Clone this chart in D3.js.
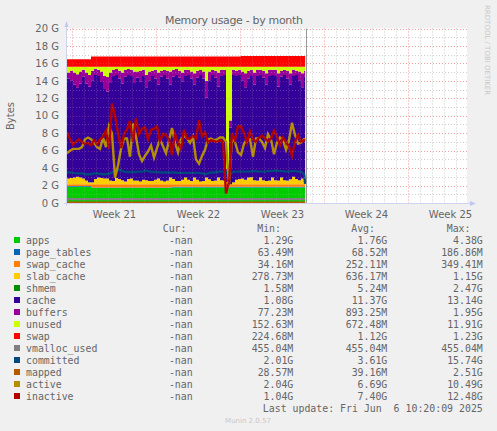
<!DOCTYPE html>
<html>
<head>
<meta charset="utf-8">
<script src="https://cdn.jsdelivr.net/npm/d3@7"></script>
<style>
html, body { margin: 0; padding: 0; background: #f0f0f0; }
svg { display: block; }
text { fill: #666; }
.mono { font-family: "DejaVu Sans Mono", monospace; font-size: 9.9px; white-space: pre; }
</style>
</head>
<body>
<div id="graph"></div>
<script>
// values in G, one every 6 hours from May 17 14:00
const apps = [1.87,1.87,1.87,1.87,1.87,1.87,1.87,1.87,1.72,1.72,
    1.72,1.72,1.72,1.72,1.72,1.72,1.72,1.72,1.72,1.72,
    1.72,1.72,1.72,1.72,1.72,1.72,1.72,1.72,1.72,1.72,
    1.72,1.72,1.72,1.72,1.72,1.79,1.79,1.79,1.79,1.79,
    1.79,1.79,1.79,1.79,1.79,1.79,1.79,1.79,1.79,1.79,
    1.79,1.79,1.79,1.79,1.79,1.79,1.79,1.79,1.79,1.79,
    1.79,1.79,1.79,1.79,1.79,1.79,1.79,1.79,1.79,1.79,
    1.79,1.79,1.79,1.79,1.79,1.79,1.79,1.79,1.79,1.79,1.79];
const page_tables = [.07,.07,.07,.07,.07,.07,.07,.07,.07,.07,
    .07,.07,.07,.07,.07,.07,.07,.07,.07,.07,
    .07,.07,.07,.07,.07,.07,.07,.07,.07,.07,
    .07,.07,.07,.07,.07,.07,.07,.07,.07,.07,
    .07,.07,.07,.07,.07,.07,.07,.07,.07,.07,
    .07,.07,.07,.07,.07,.07,.07,.07,.07,.07,
    .07,.07,.07,.07,.07,.07,.07,.07,.07,.07,
    .07,.07,.07,.07,.07,.07,.07,.07,.07,.07,.07];
const swap_cache = [.2,.2,.2,.2,.2,.2,.2,.2,.35,.35,
    .35,.35,.35,.35,.35,.35,.35,.35,.35,.35,
    .35,.35,.35,.35,.35,.35,.35,.35,.35,.35,
    .35,.35,.35,.35,.35,.28,.28,.28,.28,.28,
    .28,.28,.28,.28,.28,.28,.28,.28,.28,.28,
    .28,.28,.28,.28,.28,.28,.28,.28,.28,.28,
    .28,.28,.28,.28,.28,.28,.28,.28,.28,.28,
    .28,.28,.28,.28,.28,.28,.28,.28,.28,.28,.28];
const slab_cache = [.67,.72,.77,.87,.77,.67,.42,.22,.22,.62,
    .77,.72,.67,.67,.42,.37,.72,.62,.47,.32,
    .62,.67,.42,.42,.32,.52,.47,.37,.37,.52,
    .67,.42,.32,.42,.77,.62,.37,.37,.52,.77,
    .52,.37,.77,.52,.32,.37,.77,.57,.37,.42,
    .77,.47,.42,.27,.02,.22,.52,.62,.67,.52,
    .77,.82,.47,.42,.77,.47,.37,.42,.77,.47,
    .42,.77,.47,.42,.57,.87,.62,.47,.67,.77,.77];
const shmem = [.005,.005,.005,.005,.005,.005,.005,.005,.005,.005,
    .005,.005,.005,.005,.005,.005,.005,.005,.005,.005,
    .005,.005,.005,.005,.005,.005,.005,.005,.005,.005,
    .005,.005,.005,.005,.005,.005,.005,.005,.005,.005,
    .005,.005,.005,.005,.005,.005,.005,.005,.005,.005,
    .005,.005,.005,.005,.005,.005,.005,.005,.005,.005,
    .005,.005,.005,.005,.005,.005,.005,.005,.005,.005,
    .005,.005,.005,.005,.005,.005,.005,.005,.005,.005,.005];
const cache = [11.45,11.2,10.65,10.25,10.75,11.65,11.1,11.0,11.7,11.9,
    11.65,11.0,10.25,9.95,11.2,12.05,11.8,11.5,11.05,12.0,
    11.9,11.75,11.2,11.8,11.5,11.9,10.65,11.55,12.05,11.6,
    10.75,11.9,12.2,11.7,10.65,11.7,12.15,11.85,11.3,11.65,
    12.0,11.75,10.65,11.7,12.2,11.75,9.15,11.35,12.15,11.8,
    10.45,11.95,12.1,1.08,6.5,12.3,11.9,11.9,11.25,10.6,
    11.35,11.6,10.95,12.0,11.75,11.75,11.05,12.0,11.75,11.95,
    10.8,11.55,12.05,11.7,10.85,11.55,11.9,11.45,10.45,11.55,11.55];
const buffers = [.7,1.1,1.4,1.5,1.4,.8,1.3,1.3,1.1,.7,
    .7,1.2,1.5,1.7,1.2,.7,.7,.9,1.3,.8,
    .7,.7,1.3,.7,1.2,.7,1.4,1.0,.6,1.0,
    1.4,.7,.6,.9,1.5,.8,.7,.8,1.0,.7,
    .6,.8,1.3,.8,.6,.8,1.95,1.0,.6,.8,
    1.6,.7,.6,.4,.8,.6,.6,.6,1.0,1.6,
    .9,.7,1.4,.7,.6,.8,1.3,.7,.6,.7,
    1.5,.7,.6,.9,1.3,.7,.5,1.0,1.6,.7,.7];
const unused = [.65,.45,.65,.85,.55,.35,.65,.95,.45,.25,
    .35,.55,1.05,1.15,.65,.35,.25,.45,.65,.35,
    .25,.35,.55,.55,.45,.35,.95,.55,.45,.35,
    .65,.45,.35,.45,.55,.35,.25,.45,.65,.35,
    .35,.55,.75,.45,.35,.55,1.6,.55,.35,.45,
    .65,.35,.35,11.72,6.15,.35,.45,.35,.55,.75,
    .45,.35,.65,.35,.35,.45,.75,.35,.35,.35,
    .75,.45,.35,.45,.75,.35,.45,.55,.75,.45,.45];
const swap = [.85,.85,.85,.85,.85,.85,.85,.85,1.19,1.19,
    1.19,1.19,1.19,1.19,1.19,1.19,1.19,1.19,1.19,1.19,
    1.19,1.19,1.19,1.19,1.19,1.19,1.19,1.19,1.19,1.19,
    1.19,1.19,1.19,1.19,1.19,1.19,1.19,1.19,1.19,1.19,
    1.19,1.19,1.19,1.19,1.19,1.19,1.19,1.19,1.19,1.19,
    1.19,1.19,1.19,1.19,1.19,1.19,1.19,1.19,1.22,1.22,
    1.22,1.22,1.22,1.22,1.22,1.22,1.22,1.22,1.22,1.22,
    1.22,1.22,1.22,1.22,1.22,1.22,1.22,1.22,1.22,1.22,1.15];
const vmalloc_used = [.445,.445,.445,.445,.445,.445,.445,.445,.445,.445,
    .445,.445,.445,.445,.445,.445,.445,.445,.445,.445,
    .445,.445,.445,.445,.445,.445,.445,.445,.445,.445,
    .445,.445,.445,.445,.445,.445,.445,.445,.445,.445,
    .445,.445,.445,.445,.445,.445,.445,.445,.445,.445,
    .445,.445,.445,.445,.445,.445,.445,.445,.445,.445,
    .445,.445,.445,.445,.445,.445,.445,.445,.445,.445,
    .445,.445,.445,.445,.445,.445,.445,.445,.445,.445,.445];
const committed = [3.5,3.5,3.45,3.4,3.4,3.4,3.3,3.3,3.3,3.4,
    3.4,3.35,3.3,3.3,3.35,3.5,3.7,3.8,3.75,3.6,
    3.55,3.55,3.55,3.55,3.6,3.6,3.7,3.65,3.55,3.55,
    3.55,3.5,3.5,3.5,3.5,3.5,3.5,3.45,3.45,3.45,
    3.45,3.45,3.45,3.45,3.45,3.4,3.3,3.4,3.5,3.5,
    3.55,3.6,3.6,3.6,3.1,3.5,3.6,3.6,3.6,3.6,
    3.6,3.6,3.65,3.65,3.6,3.6,3.6,3.65,3.65,3.7,
    3.7,3.65,3.65,3.6,3.6,3.65,3.65,3.6,3.6,3.3,2.2];
const mapped = [.04,.04,.04,.04,.04,.04,.04,.04,.04,.04,
    .04,.04,.04,.04,.04,.04,.04,.04,.04,.04,
    .04,.04,.04,.04,.04,.04,.04,.04,.04,.04,
    .04,.04,.04,.04,.04,.04,.04,.04,.04,.04,
    .04,.04,.04,.04,.04,.04,.04,.04,.04,.04,
    .04,.04,.04,.04,.04,.04,.04,.04,.04,.04,
    .04,.04,.04,.04,.04,.04,.04,.04,.04,.04,
    .04,.04,.04,.04,.04,.04,.04,.04,.04,.04,.04];
const active = [5.7,6.0,6.2,6.2,6.2,6.4,7.3,7.5,7.3,6.9,
    6.4,6.2,7.5,6.4,8.8,8.0,2.9,4.3,6.2,7.4,
    7.4,5.3,9.1,7.6,5.6,4.8,5.4,5.9,6.6,5.2,
    6.3,7.3,6.5,5.7,7.2,8.6,6.9,5.8,7.3,7.7,
    7.4,6.9,7.6,5.0,4.5,5.4,6.1,7.3,7.4,7.2,
    7.3,7.5,7.5,7.0,2.1,7.5,7.0,5.8,5.5,6.8,
    7.3,7.3,5.3,7.4,7.4,7.0,6.3,7.9,7.3,5.6,
    6.9,7.5,7.2,6.1,7.2,9.2,7.8,6.8,6.9,7.3,7.3];
const inactive = [8.1,7.3,6.7,7.0,7.3,7.0,6.8,6.9,6.6,7.2,
    6.7,7.3,7.6,8.3,6.2,11.4,10.0,8.0,6.3,7.9,
    8.4,9.4,7.0,9.7,7.9,8.5,8.7,7.3,8.4,8.5,
    8.8,7.1,7.9,7.8,7.3,5.5,7.9,7.0,6.2,8.4,
    7.4,7.4,7.7,7.4,9.5,7.6,8.1,6.9,7.2,7.1,
    7.0,7.2,7.0,1.1,2.4,8.0,7.2,8.8,8.8,8.0,
    6.9,8.2,7.3,7.0,7.5,7.7,7.4,7.1,7.4,8.3,
    7.6,6.6,7.5,7.0,6.5,5.4,7.0,7.8,7.0,7.2,7.2];

const stackNames = ["apps", "page_tables", "swap_cache", "slab_cache", "shmem", "cache", "buffers", "unused", "swap"];
const stackValues = [apps, page_tables, swap_cache, slab_cache, shmem, cache, buffers, unused, swap];
const lineNames = ["vmalloc_used", "committed", "mapped", "active", "inactive"];
const lineValues = [vmalloc_used, committed, mapped, active, inactive];

const colors = {
    apps: "#00CC00", page_tables: "#0066B3", swap_cache: "#FF8000", slab_cache: "#FFCC00",
    shmem: "#008F00", cache: "#330099", buffers: "#990099", unused: "#CCFF00", swap: "#FF0000",
    vmalloc_used: "#808080", committed: "#00487D", mapped: "#B35A00", active: "#B38F00", inactive: "#B30000"
};

const legendNames = stackNames.concat(lineNames);
const legendCur = legendNames.map(() => "-nan");
const legendMin = ["1.29G","63.49M","34.16M","278.73M","1.58M","1.08G","77.23M","152.63M","224.68M","455.04M","2.01G","28.57M","2.04G","1.04G"];
const legendAvg = ["1.76G","68.52M","252.11M","636.17M","5.24M","11.37G","893.25M","672.48M","1.12G","455.04M","3.61G","39.16M","6.69G","7.40G"];
const legendMax = ["4.38G","186.86M","349.41M","1.15G","2.47G","13.14G","1.95G","11.91G","1.23G","455.04M","15.74G","2.51G","10.49G","12.48G"];

const weekLabels = ["Week 21", "Week 22", "Week 23", "Week 24", "Week 25"];
const weekStarts = [Date.UTC(2025,4,18), Date.UTC(2025,4,25), Date.UTC(2025,5,1), Date.UTC(2025,5,8), Date.UTC(2025,5,15), Date.UTC(2025,5,22)];
const yTicks = [0,2,4,6,8,10,12,14,16,18,20];

const width = 497, height = 431;
const plot = {left: 67, right: 467, top: 28.5, bottom: 203};

const start = Date.UTC(2025,4,17,14);
const lastUpdate = Date.UTC(2025,5,6,10,20);
const times = d3.range(apps.length).map(i => Math.min(start + i * 6 * 3600 * 1000, lastUpdate));

const x = d3.scaleUtc()
    .domain([start, start + 400 / 12 * 24 * 3600 * 1000])
    .range([plot.left, plot.right]);
const y = d3.scaleLinear().domain([0, 20]).range([plot.bottom, plot.top]);

const svg = d3.select("#graph").append("svg")
    .attr("width", width)
    .attr("height", height)
    .style("font-family", "'DejaVu Sans', sans-serif");

svg.append("rect")
    .attr("x", plot.left).attr("y", plot.top)
    .attr("width", plot.right - plot.left).attr("height", plot.bottom - plot.top)
    .attr("fill", "#fff");

function drawGrid(g, minorColor, majorColor) {
    const days = d3.utcDay.range(x.domain()[0], x.domain()[1]);
    const majorTimes = weekStarts.map(d => +d);
    g.selectAll(".vgrid").data(days).enter().append("line")
        .attr("x1", d => Math.round(x(d)) + 0.5)
        .attr("x2", d => Math.round(x(d)) + 0.5)
        .attr("y1", plot.top)
        .attr("y2", plot.bottom)
        .attr("stroke", d => majorTimes.includes(+d) ? majorColor : minorColor)
        .attr("stroke-dasharray", "1 2");
    g.selectAll(".hgrid").data(d3.range(1, 21)).enter().append("line")
        .attr("x1", plot.left)
        .attr("x2", plot.right)
        .attr("y1", d => Math.round(y(d)) + 0.5)
        .attr("y2", d => Math.round(y(d)) + 0.5)
        .attr("stroke", d => d % 2 === 0 ? majorColor : minorColor)
        .attr("stroke-dasharray", "1 2");
}

drawGrid(svg.append("g"), "#d6d6d6", "#eeb4b4");

// stacked areas
const table = times.map((t, i) => {
    const row = {time: t};
    stackNames.forEach((name, k) => { row[name] = stackValues[k][i]; });
    return row;
});
const series = d3.stack().keys(stackNames)(table);
const area = d3.area()
    .curve(d3.curveStepAfter)
    .x(d => x(d.data.time))
    .y0(d => y(d[0]))
    .y1(d => y(d[1]));
svg.append("g").selectAll("path").data(series).enter().append("path")
    .attr("d", area)
    .attr("fill", d => colors[d.key]);

// plain lines on top of the stack
const line = d3.line()
    .x((d, i) => x(times[i]))
    .y(d => y(d));
svg.append("g").selectAll("path").data(lineValues).enter().append("path")
    .attr("d", d => line(d))
    .attr("fill", "none")
    .attr("stroke-width", 2.4)
    .attr("stroke", (d, i) => colors[lineNames[i]]);

drawGrid(svg.append("g").attr("opacity", 0.3), "#c8c8c8", "#f08080");

// now marker
svg.append("line")
    .attr("x1", 306.5).attr("x2", 306.5)
    .attr("y1", plot.top).attr("y2", plot.bottom)
    .attr("stroke", "#999");

// axes
const yAxis = d3.axisLeft(y).tickValues(yTicks).tickSize(0).tickPadding(8).tickFormat(d => d + " G");
const yG = svg.append("g").attr("transform", `translate(${plot.left},0)`).call(yAxis);
yG.select(".domain").remove();
yG.selectAll("text").style("font-size", "10px").style("font-family", "'DejaVu Sans', sans-serif");

const weekMids = weekLabels.map((d, i) => new Date((weekStarts[i] + weekStarts[i + 1]) / 2));
const xAxis = d3.axisBottom(x).tickValues(weekMids).tickSize(0).tickPadding(8).tickFormat((d, i) => weekLabels[i]);
const xG = svg.append("g").attr("transform", `translate(0,${plot.bottom})`).call(xAxis);
xG.select(".domain").remove();
xG.selectAll("text").style("font-size", "10px").style("font-family", "'DejaVu Sans', sans-serif");

svg.append("line").attr("x1", plot.left - 0.5).attr("x2", plot.left - 0.5).attr("y1", 26).attr("y2", plot.bottom + 3).attr("stroke", "#d0d4ec");
svg.append("line").attr("x1", plot.left - 3).attr("x2", 470).attr("y1", plot.bottom + 0.5).attr("y2", plot.bottom + 0.5).attr("stroke", "#d0d4ec");
svg.append("path").attr("d", "M64.5,27L66.5,21L68.5,27Z").attr("fill", "#c0c8f0");
svg.append("path").attr("d", "M470,201L476,203.5L470,206Z").attr("fill", "#c0c8f0");

// titles
svg.append("text")
    .attr("x", 234).attr("y", 24)
    .style("text-anchor", "middle")
    .style("font-size", "11px")
    .attr("textLength", 138)
    .text("Memory usage - by month");
svg.append("text")
    .attr("transform", "translate(14,116) rotate(-90)")
    .style("text-anchor", "middle")
    .style("font-size", "10px")
    .text("Bytes");
svg.append("text")
    .attr("transform", "translate(485,5) rotate(90)")
    .style("font-size", "7px")
    .style("fill", "#c8c8c8")
    .text("RRDTOOL / TOBI OETIKER");

// legend
const rowY = i => 243.5 + i * 12;
const columns = [
    {head: "Cur:", headEnd: 186.5, end: 192.7, values: legendCur},
    {head: "Min:", headEnd: 281, end: 293.3, values: legendMin},
    {head: "Avg:", headEnd: 375, end: 387.3, values: legendAvg},
    {head: "Max:", headEnd: 470.5, end: 482.8, values: legendMax}
];
const legend = svg.append("g");
legendNames.forEach((name, i) => {
    legend.append("rect")
        .attr("x", 14).attr("y", rowY(i) - 6.5)
        .attr("width", 6).attr("height", 6)
        .attr("fill", colors[name]);
    legend.append("text").attr("class", "mono")
        .attr("x", 26).attr("y", rowY(i))
        .text(name);
});
columns.forEach(c => {
    legend.append("text").attr("class", "mono")
        .attr("x", c.headEnd).attr("y", rowY(-1))
        .style("text-anchor", "end")
        .text(c.head);
    c.values.forEach((v, i) => {
        legend.append("text").attr("class", "mono")
            .attr("x", c.end).attr("y", rowY(i))
            .style("text-anchor", "end")
            .text(v);
    });
});
legend.append("text").attr("class", "mono")
    .attr("x", 482.8).attr("y", rowY(14))
    .style("text-anchor", "end")
    .text("Last update: Fri Jun  6 10:20:09 2025");
svg.append("text")
    .attr("x", 248).attr("y", 423)
    .style("text-anchor", "middle")
    .style("font-size", "7px")
    .style("fill", "#c8c8c8")
    .text("Munin 2.0.57");
</script>
</body>
</html>
